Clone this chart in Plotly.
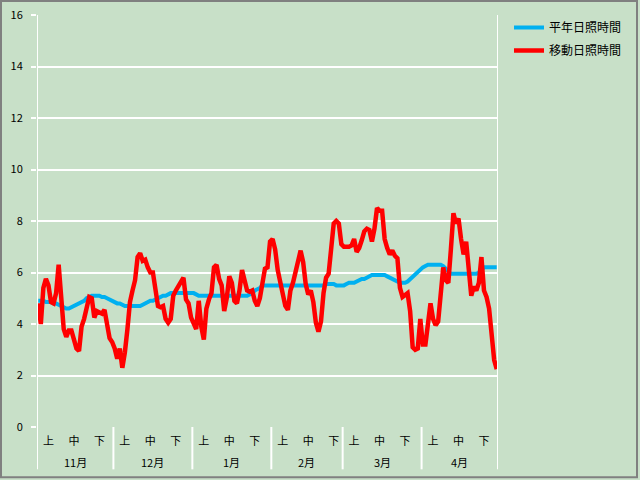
import plotly.graph_objects as go

# ---- data (daily, Nov 1 .. Apr 30) ----
months = ["11月", "12月", "1月", "2月", "3月", "4月"]
month_days = [30, 31, 31, 28, 31, 30]
decade_labels = ["上", "中", "下"]
decade_days = [5, 15, 25]

normal_nov = [4.9, 4.9, 4.9, 4.85, 4.85, 4.85, 4.8, 4.8, 4.75, 4.7, 4.65, 4.6, 4.6,
              4.65, 4.7, 4.75, 4.8, 4.85, 4.9, 5.0, 5.05, 5.1, 5.1, 5.1, 5.1, 5.05, 5.05, 5.0, 4.95, 4.9]
normal_dec = [4.85, 4.8, 4.8, 4.75, 4.7, 4.7, 4.7, 4.7, 4.7, 4.7, 4.7, 4.75, 4.8, 4.85, 4.9, 4.9,
              4.95, 5.0, 5.05, 5.1, 5.1, 5.15, 5.2, 5.2, 5.2, 5.2, 5.2, 5.2, 5.2, 5.2, 5.2]
normal_jan = [5.2, 5.15, 5.1, 5.1, 5.1, 5.1, 5.1, 5.1, 5.1, 5.1, 5.1, 5.1, 5.1, 5.1, 5.1, 5.1,
              5.1, 5.1, 5.1, 5.1, 5.1, 5.1, 5.15, 5.2, 5.3, 5.35, 5.4, 5.5, 5.5, 5.5, 5.5]
normal_feb = [5.5, 5.5, 5.5, 5.5, 5.5, 5.5, 5.5, 5.5, 5.5, 5.5, 5.5, 5.5, 5.5, 5.5, 5.5, 5.5,
              5.5, 5.5, 5.5, 5.5, 5.5, 5.55, 5.55, 5.55, 5.55, 5.5, 5.5, 5.5]
normal_mar = [5.5, 5.55, 5.6, 5.6, 5.6, 5.65, 5.7, 5.75, 5.75, 5.8, 5.85, 5.9, 5.9, 5.9, 5.9, 5.9,
              5.9, 5.85, 5.8, 5.75, 5.7, 5.65, 5.6, 5.6, 5.6, 5.65, 5.75, 5.85, 5.95, 6.05, 6.15]
normal_apr = [6.2, 6.25, 6.3, 6.3, 6.3, 6.3, 6.3, 6.3, 6.25, 6.15, 6.05, 5.95, 5.95, 5.95, 5.95,
              5.95, 5.95, 5.95, 5.95, 5.95, 5.95, 5.95, 6.0, 6.1, 6.2, 6.2, 6.2, 6.2, 6.2, 6.2]

moving_nov = [4.8, 4.0, 5.4, 5.75, 5.5, 4.85, 4.8, 5.2, 6.3, 4.85, 3.8, 3.5, 3.75, 3.75, 3.3,
              3.05, 2.95, 3.9, 4.2, 4.6, 5.05, 5.0, 4.25, 4.5, 4.45, 4.4, 4.55, 3.9, 3.45, 3.3]
moving_dec = [3.05, 2.65, 3.05, 2.3, 2.9, 3.8, 4.85, 5.3, 5.7, 6.6, 6.75, 6.45, 6.5, 6.2, 6.0, 6.0,
              5.35, 4.7, 4.65, 4.7, 4.2, 4.05, 4.2, 5.1, 5.3, 5.45, 5.6, 5.8, 4.95, 4.8, 4.25]
moving_jan = [4.0, 3.8, 4.9, 3.9, 3.4, 4.6, 4.95, 5.2, 6.2, 6.3, 5.75, 5.5, 4.5, 5.0, 5.85, 5.6,
              4.9, 4.8, 5.3, 6.1, 5.7, 5.3, 5.25, 5.3, 4.9, 4.7, 5.0, 5.7, 6.15, 6.2, 7.2]
moving_feb = [7.3, 6.9, 6.1, 5.65, 5.2, 4.7, 4.55, 5.3, 5.6, 6.0, 6.3, 6.85, 6.4, 5.55, 5.15, 5.3,
              4.85, 4.05, 3.7, 4.1, 5.2, 5.8, 5.95, 6.8, 7.9, 8.0, 7.9, 7.1]
moving_mar = [7.0, 7.0, 7.0, 7.05, 7.3, 6.8, 6.95, 7.25, 7.6, 7.7, 7.65, 7.2, 7.7, 8.5, 8.4, 8.4,
              7.3, 6.95, 6.7, 6.85, 6.65, 6.55, 5.4, 5.05, 5.15, 5.2, 4.5, 3.1, 3.0, 3.05, 4.2]
moving_apr = [3.2, 3.2, 4.1, 4.8, 4.2, 3.95, 4.1, 5.3, 6.2, 5.7, 5.6, 6.9, 8.3, 7.9, 8.1, 7.3,
              6.7, 7.2, 6.3, 5.1, 5.45, 5.3, 5.6, 6.6, 5.3, 5.05, 4.6, 3.7, 2.6, 2.25]

normal = normal_nov + normal_dec + normal_jan + normal_feb + normal_mar + normal_apr
moving = moving_nov + moving_dec + moving_jan + moving_feb + moving_mar + moving_apr
x = list(range(len(normal)))

# category positions
starts = []
s = 0
for d in month_days:
    starts.append(s)
    s += d
tickvals, ticktext = [], []
for st in starts:
    for lab, dd in zip(decade_labels, decade_days):
        tickvals.append(st + dd - 1)
        ticktext.append(lab)

BG = "#C8E0C8"
FONT = "Noto Sans CJK JP, sans-serif"

fig = go.Figure()
fig.add_trace(go.Scatter(x=x, y=normal, mode="lines", name="平年日照時間",
                         line=dict(color="#00B0F0", width=4), legendgroup="a"))
fig.add_trace(go.Scatter(x=x, y=moving, mode="lines", name="移動日照時間",
                         line=dict(color="#FF0000", width=4.5), legendgroup="b"))

# plot geometry (pixels) -> paper
L, R, T, B = 37, 498, 15, 426.7
pw, ph = R - L, B - T
def px(xp):
    return (xp - L) / pw
def py(yp):
    return (B - yp) / ph

shapes = []
# outer gray border
shapes.append(dict(type="rect", xref="paper", yref="paper",
                   x0=px(1), x1=px(637), y0=py(477), y1=py(1),
                   line=dict(color="#808080", width=2), layer="below"))
# edge lines full height
for xv in [-0.5, len(x) - 0.5]:
    shapes.append(dict(type="line", xref="x", yref="paper", x0=xv, x1=xv,
                       y0=py(469), y1=1, line=dict(color="white", width=2)))
# month separators in label area
for st in starts[1:]:
    shapes.append(dict(type="line", xref="x", yref="paper", x0=st - 0.5, x1=st - 0.5,
                       y0=py(469), y1=0, line=dict(color="white", width=2)))

annotations = []
for m, st, d in zip(months, starts, month_days):
    annotations.append(dict(x=st + (d - 1) / 2, y=py(461.5), xref="x", yref="paper",
                            text=m, showarrow=False, font=dict(family=FONT, size=11, color="black"),
                            xanchor="center", yanchor="middle"))

fig.update_layout(
    width=640, height=480,
    margin=dict(l=L, r=640 - R, t=T, b=480 - B, autoexpand=False),
    paper_bgcolor=BG, plot_bgcolor=BG,
    font=dict(family=FONT, size=11, color="black"),
    shapes=shapes, annotations=annotations,
    legend=dict(x=px(509), y=py(13), xanchor="left", yanchor="top",
                bgcolor="rgba(0,0,0,0)", font=dict(family=FONT, size=12, color="black"),
                tracegroupgap=4, traceorder="grouped"),
    xaxis=dict(range=[-0.5, len(x) - 0.5], tickmode="array", tickvals=tickvals, ticktext=ticktext,
               showgrid=False, zeroline=False, showline=False, ticks="",
               tickfont=dict(family=FONT, size=11, color="black"), ticklabelstandoff=6,
               fixedrange=True),
    yaxis=dict(range=[0, 16], dtick=2, showgrid=True, gridcolor="white", gridwidth=1.5,
               zeroline=False, showline=False, ticks="outside", ticklen=5, tickcolor="white",
               tickwidth=1.5, tickfont=dict(family=FONT, size=11, color="black"),
               ticklabelstandoff=6, fixedrange=True),
)

fig.write_html("out.html", config={"displayModeBar": False},
               post_script="document.body.style.margin='0px';")
